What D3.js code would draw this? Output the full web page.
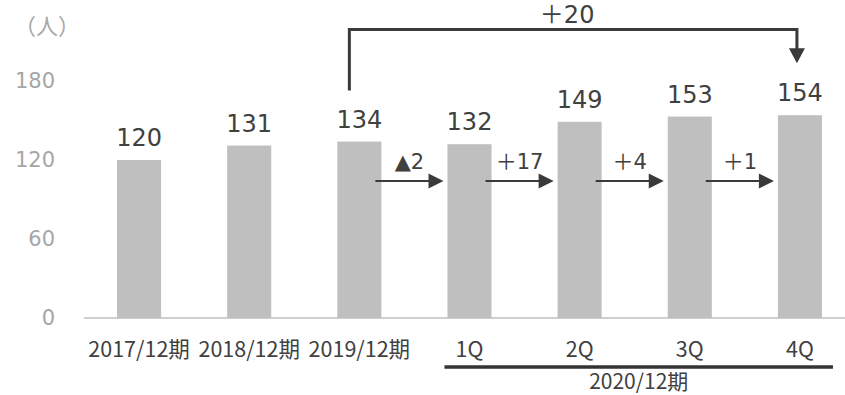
<!DOCTYPE html>
<html>
<head>
<meta charset="utf-8">
<script src="https://cdn.jsdelivr.net/npm/d3@7"></script>
<style>
  body { margin: 0; background: #fff; }
  svg { display: block; }
</style>
</head>
<body>
<svg id="chart" width="845" height="395"></svg>
<script>
// Headcount at each fiscal year end, then by quarter for FY2020
const categories = ["2017/12期", "2018/12期", "2019/12期", "1Q", "2Q", "3Q", "4Q"];
const headcount = [120, 131, 134, 132, 149, 153, 154];
const yTicks = [0, 60, 120, 180];
const unitLabel = "（人）";
const groupLabel = "2020/12期";
const groupFirst = "1Q";
const groupLast = "4Q";
const bracketFrom = "2019/12期";
const bracketTo = "4Q";

const W = 845, H = 395;
const NUM_FONT = "'DejaVu Sans', 'Noto Sans CJK JP', sans-serif";
const JP_FONT = "'Noto Sans CJK JP', 'Noto Sans', sans-serif";
const DARK = "#404040";
const ARROW = "#3a3a3a";
const GREY_TEXT = "#a6a6a6";
const BAR = "#bfbfbf";

const svg = d3.select("#chart");

const x = d3.scaleBand()
  .domain(categories)
  .range([84, 855])
  .paddingInner(0.6)
  .paddingOuter(0.3);

const y = d3.scaleLinear().domain([0, 240]).range([318, 2]);

const rows = categories.map((c, i) => ({ cat: c, value: headcount[i] }));
const bw = x.bandwidth();
const cx = c => x(c) + bw / 2;

// unit label
svg.append("text")
  .attr("x", 47).attr("y", 34)
  .attr("text-anchor", "middle")
  .attr("font-family", JP_FONT)
  .attr("font-size", 22)
  .attr("fill", GREY_TEXT)
  .text(unitLabel);

// value axis labels (no axis line)
const yAxis = svg.append("g")
  .attr("transform", "translate(55,0)")
  .call(d3.axisLeft(y).tickValues(yTicks).tickSize(0).tickPadding(0));
yAxis.select(".domain").remove();
yAxis.selectAll("text")
  .attr("font-family", NUM_FONT)
  .attr("font-size", 21)
  .attr("fill", GREY_TEXT);

// bars
svg.append("g").selectAll("rect")
  .data(rows)
  .join("rect")
  .attr("x", d => x(d.cat))
  .attr("y", d => y(d.value))
  .attr("width", bw)
  .attr("height", d => y(0) - y(d.value))
  .attr("fill", BAR);

// baseline
svg.append("line")
  .attr("x1", 84).attr("x2", W)
  .attr("y1", y(0)).attr("y2", y(0))
  .attr("stroke", "#bfbfbf")
  .attr("stroke-width", 1.5);

// category axis labels
const xAxis = svg.append("g")
  .attr("transform", `translate(0,${y(0)})`)
  .call(d3.axisBottom(x).tickSize(0).tickPadding(24));
xAxis.select(".domain").remove();
xAxis.selectAll("text")
  .attr("font-family", JP_FONT)
  .attr("font-size", 21.5)
  .attr("fill", DARK);

// value labels
svg.append("g").selectAll("text")
  .data(rows)
  .join("text")
  .attr("x", d => cx(d.cat))
  .attr("y", d => y(d.value) - 14)
  .attr("text-anchor", "middle")
  .attr("font-family", NUM_FONT)
  .attr("font-size", 24)
  .attr("fill", DARK)
  .text(d => d.value);

// period group underline and label
const gx1 = x(groupFirst) - 3;
const gx2 = x(groupLast) + bw + 11;
svg.append("line")
  .attr("x1", gx1).attr("x2", gx2)
  .attr("y1", 367).attr("y2", 367)
  .attr("stroke", "#333")
  .attr("stroke-width", 3.5);
svg.append("text")
  .attr("x", (gx1 + gx2) / 2).attr("y", 389)
  .attr("text-anchor", "middle")
  .attr("font-family", JP_FONT)
  .attr("font-size", 21)
  .attr("fill", DARK)
  .text(groupLabel);

// change between consecutive quarters
const fmtDiff = d => (d < 0 ? "▲" + Math.abs(d) : "＋" + d);

const arrowY = 181;
const head = 15, halfHead = 7.5;
const quarterStart = categories.indexOf(bracketFrom);
const steps = [];
for (let i = quarterStart; i < rows.length - 1; i++) {
  steps.push({ from: rows[i], to: rows[i + 1], diff: rows[i + 1].value - rows[i].value });
}

const stepG = svg.append("g");
steps.forEach(s => {
  const x1 = x(s.from.cat) + bw - 6;
  const x2 = x(s.to.cat) - 4;
  stepG.append("line")
    .attr("x1", x1).attr("x2", x2 - head + 1)
    .attr("y1", arrowY).attr("y2", arrowY)
    .attr("stroke", ARROW)
    .attr("stroke-width", 2.2);
  stepG.append("path")
    .attr("d", `M${x2 - head},${arrowY - halfHead} L${x2},${arrowY} L${x2 - head},${arrowY + halfHead} Z`)
    .attr("fill", ARROW);
  stepG.append("text")
    .attr("x", (x1 + x2) / 2)
    .attr("y", arrowY - 12)
    .attr("text-anchor", "middle")
    .attr("font-family", NUM_FONT)
    .attr("font-size", 21)
    .attr("fill", DARK)
    .text(fmtDiff(s.diff));
});

// full-year change bracket
const vFrom = headcount[categories.indexOf(bracketFrom)];
const vTo = headcount[categories.indexOf(bracketTo)];
const bx1 = cx(bracketFrom) - 10;
const bx2 = cx(bracketTo) - 3;
const bTop = 29.5;
const bLeftEnd = y(vFrom) - 51;
const tipY = y(vTo) - 52;
svg.append("path")
  .attr("d", `M${bx1},${bLeftEnd} V${bTop} H${bx2} V${tipY - head + 1}`)
  .attr("fill", "none")
  .attr("stroke", ARROW)
  .attr("stroke-width", 3);
svg.append("path")
  .attr("d", `M${bx2 - 8},${tipY - head} L${bx2 + 8},${tipY - head} L${bx2},${tipY} Z`)
  .attr("fill", ARROW);
svg.append("text")
  .attr("x", (bx1 + bx2) / 2 - 6)
  .attr("y", 23)
  .attr("text-anchor", "middle")
  .attr("font-family", NUM_FONT)
  .attr("font-size", 24)
  .attr("fill", DARK)
  .text(fmtDiff(vTo - vFrom));
</script>
</body>
</html>
